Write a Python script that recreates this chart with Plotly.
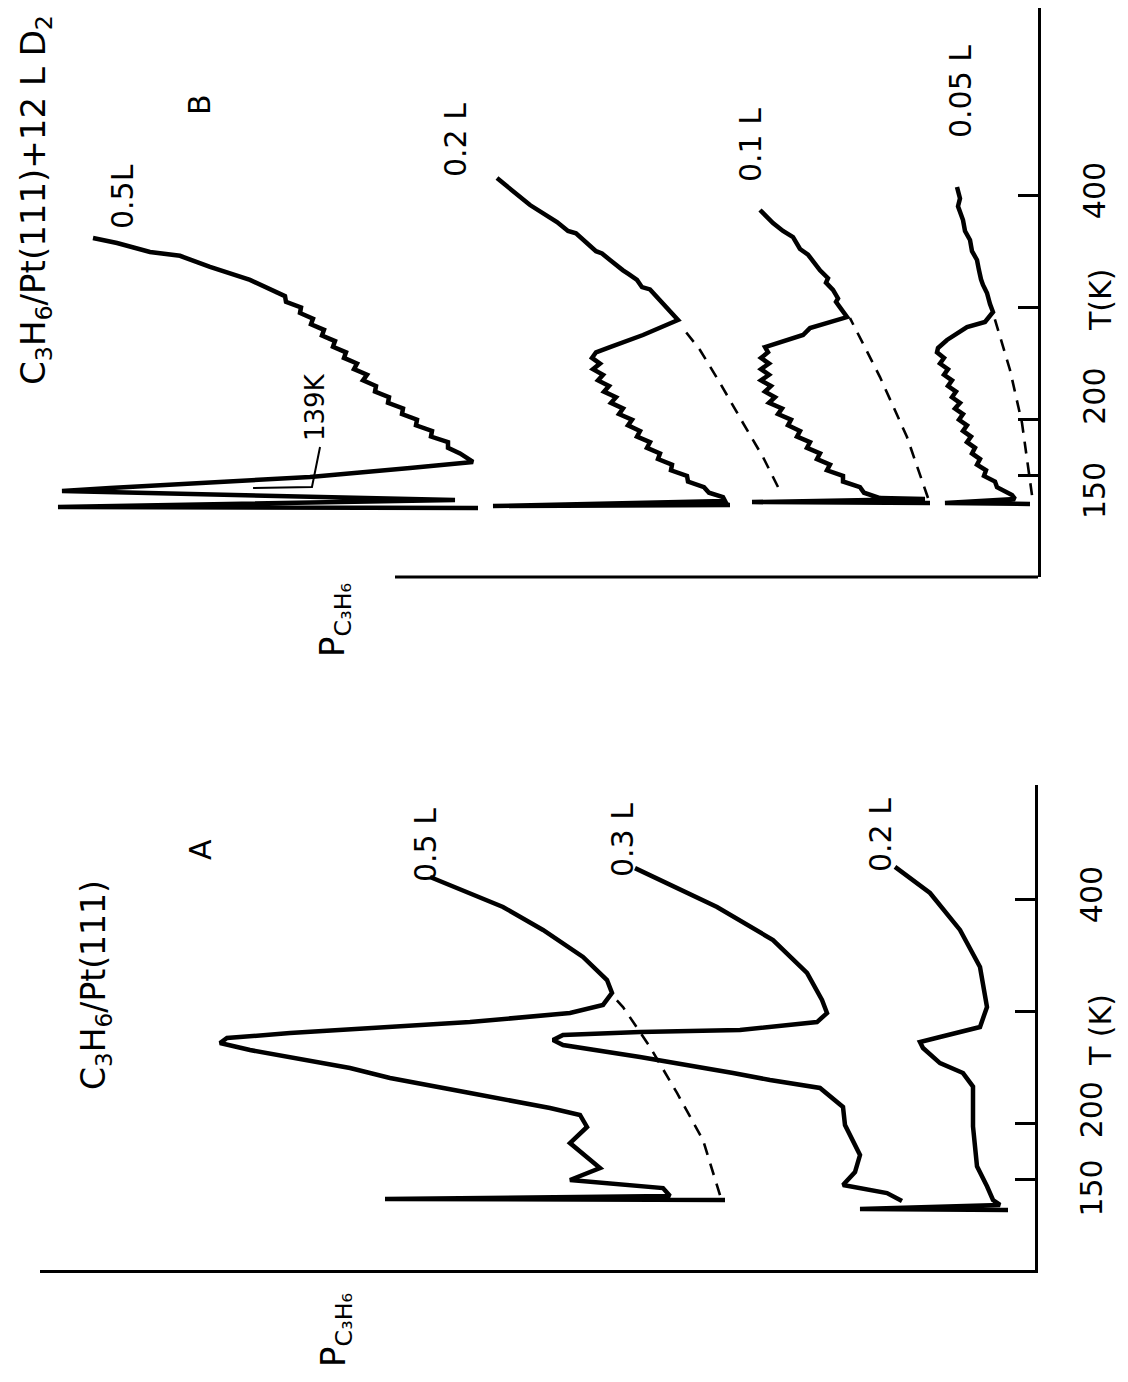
import plotly.graph_objects as go

FONT = "DejaVu Sans"
OFF = 8                      # the page body adds an 8 px margin
W, H = 1128 - OFF, 1382 - OFF

# ---- panel A : C3H6/Pt(111) ; T in K, P in arb. units (measured leftward from the T axis)
a05_T = [132.1, 133.0, 135.6, 142.7, 149.9, 160.6, 182.8, 197.1, 207.8, 214.0, 227.4, 240.7,
         249.6, 258.5, 265.6, 271.8, 276.3, 280.7, 286.1, 290.5, 298.5, 305.7, 316.4, 327.9,
         348.4, 372.5, 392.9, 408.1, 419.6]
a05_P = [3.10, 6.50, 3.65, 3.72, 4.65, 4.35, 4.65, 4.48, 4.55, 4.85, 5.65, 6.45,
         6.85, 7.38, 7.85, 8.15, 8.08, 7.45, 6.45, 5.65, 4.65, 4.32, 4.23, 4.28,
         4.52, 4.92, 5.32, 5.72, 6.05]
a05_base_T = [136.5, 185.5, 227.4, 268.3, 303.9, 314.6]
a05_base_P = [3.15, 3.32, 3.58, 3.85, 4.12, 4.23]

a03_T = [131.2, 138.3, 145.4, 157.0, 172.1, 185.5, 198.8, 214.9, 231.8, 238.9, 245.1, 259.4,
         270.1, 274.5, 279.0, 281.6, 283.4, 290.5, 298.5, 310.1, 334.2, 363.5, 392.9, 427.5]
a03_P = [1.33, 1.48, 1.92, 1.80, 1.75, 1.82, 1.90, 1.92, 2.15, 2.65, 3.02, 3.95,
         4.72, 4.82, 4.72, 3.95, 2.95, 2.18, 2.08, 2.13, 2.28, 2.62, 3.18, 4.00]

a02_T = [123.2, 124.1, 127.7, 132.1, 144.3, 162.1, 197.6, 233.1, 245.1, 254.0, 267.4, 272.7,
         277.2, 286.1, 303.9, 339.5, 372.5, 405.4, 428.6]
a02_P = [0.27, 1.75, 0.35, 0.42, 0.48, 0.58, 0.62, 0.62, 0.72, 0.95, 1.12, 1.15,
         0.95, 0.55, 0.48, 0.55, 0.75, 1.05, 1.40]

# ---- panel B : C3H6/Pt(111) + 12 L D2
b05_T = [121.4, 122.3, 128.5, 136.5, 139.2, 143.7, 149.0, 157.0, 162.4,
         170, 175, 180, 185, 190, 195, 200, 205, 210, 215, 220, 225, 230, 235, 240,
         245, 250, 255, 260, 265, 270, 275, 280, 285, 290, 295, 300, 305, 310,
         324.4, 336.1, 345.9, 349.3, 357.3, 361.8]
b05_P = [5.60, 9.80, 5.83, 9.76, 9.28, 8.28, 7.28, 6.28, 5.65,
         5.78, 5.90, 5.90, 6.07, 6.06, 6.22, 6.21, 6.36, 6.35, 6.50, 6.49, 6.63, 6.62, 6.75, 6.71,
         6.84, 6.81, 6.94, 6.92, 7.05, 7.03, 7.16, 7.14, 7.27, 7.25, 7.38, 7.37, 7.52, 7.53,
         7.88, 8.28, 8.58, 8.88, 9.21, 9.45]

b02_T = [124.1, 123.2, 127.7, 131.2,
         135, 140, 145, 150, 155, 160, 165, 170, 175, 180, 185, 190, 195, 200, 205, 210,
         215, 220, 225, 230, 235, 240, 245, 250, 255, 260,
         264.7, 275.4, 288.8, 303.9, 311, 316, 318, 324.4, 330, 333, 342.2, 348, 350,
         360.0, 366, 368, 376.0, 391.1, 415.1]
b02_P = [3.08, 5.45, 3.13, 3.15,
         3.29, 3.34, 3.50, 3.51, 3.67, 3.66, 3.80, 3.78, 3.91, 3.88, 4.01, 3.98, 4.10, 4.06, 4.19, 4.15,
         4.27, 4.22, 4.34, 4.29, 4.40, 4.35, 4.45, 4.38, 4.46, 4.42,
         4.28, 3.95, 3.60, 3.75, 3.82, 3.88, 3.96, 4.01, 4.10, 4.15, 4.28, 4.36, 4.42,
         4.55, 4.62, 4.70, 4.81, 5.08, 5.41]
b02_base_T = [140.1, 166.8, 197.1, 232.7, 262.1, 282.5]
b02_base_P = [2.60, 2.75, 2.95, 3.18, 3.38, 3.56]

b01_T = [125.9, 126.7, 129.5, 130.3,
         135, 140, 145, 150, 155, 160, 165, 170, 175, 180, 185, 190, 195, 200, 205, 210,
         215, 220, 225, 230, 235, 240, 245, 250, 255, 260,
         264.7, 269.2, 275.4, 281.6, 291.4, 300, 305, 308, 315.5, 322, 326, 333, 342.2,
         347, 352, 362.6, 368, 375.1, 386.7]
b01_P = [1.08, 2.86, 1.13, 1.58,
         1.74, 1.78, 1.95, 1.95, 2.11, 2.08, 2.21, 2.18, 2.31, 2.28, 2.41, 2.38, 2.50, 2.47, 2.60, 2.56,
         2.69, 2.63, 2.73, 2.67, 2.77, 2.69, 2.77, 2.69, 2.77, 2.70,
         2.73, 2.58, 2.35, 2.28, 1.91, 1.98, 2.02, 2.00, 2.05, 2.12, 2.10, 2.18, 2.25,
         2.30, 2.38, 2.45, 2.55, 2.65, 2.78]
b01_base_T = [130.3, 184.6, 238.0, 263.8, 290.5]
b01_base_P = [1.10, 1.31, 1.58, 1.73, 1.88]

b005_T = [125.0, 125.9, 129.5, 133.0,
          140, 145, 150, 155, 160, 165, 170, 175, 180, 185, 190, 195, 200, 205, 210,
          215, 220, 225, 230, 235, 240, 245, 250, 255, 260,
          263.8, 271.0, 282.5, 287.0, 295.9, 303, 312.8, 320, 325, 333, 342.2, 350, 360,
          368, 377.8, 390, 397, 407.2]
b005_P = [0.08, 0.93, 0.23, 0.26,
          0.41, 0.43, 0.54, 0.52, 0.61, 0.58, 0.66, 0.63, 0.71, 0.67, 0.75, 0.71, 0.79, 0.75, 0.83,
          0.78, 0.86, 0.82, 0.90, 0.86, 0.94, 0.90, 0.98, 0.94, 1.01,
          1.00, 0.91, 0.71, 0.53, 0.45, 0.48, 0.51, 0.55, 0.57, 0.59, 0.61, 0.66, 0.68,
          0.73, 0.75, 0.80, 0.78, 0.81]
b005_base_T = [132.9, 157.9, 197.1, 244.3, 295.0]
b005_base_P = [0.06, 0.10, 0.16, 0.28, 0.45]

t_ticks = [150, 200, 300, 400]
# figure spaces nudge the crowded 150 / 200 labels apart, as in the original
t_labels_A = ["150\u2007\u2009", "\u2007200", "", "400"]
t_labels_B = ["150\u2007\u2007", "\u2007\u2007200", "", "400"]


def fx(px):
    return (px - OFF) / W


def fy(py):
    return 1 - (py - OFF) / H


fig = go.Figure()


def curve(P, T, panel, dashed=False):
    xa, ya = ("x", "y") if panel == "A" else ("x2", "y2")
    if dashed:
        line = dict(color="black", width=2.6, dash="12px,9px")
    else:
        line = dict(color="black", width=4.5)
    fig.add_trace(go.Scatter(x=P, y=T, mode="lines", line=line, xaxis=xa, yaxis=ya,
                             showlegend=False, hoverinfo="skip"))


curve(a05_P, a05_T, "A")
curve(a05_base_P, a05_base_T, "A", dashed=True)
curve(a03_P, a03_T, "A")
curve(a02_P, a02_T, "A")

curve(b05_P, b05_T, "B")
curve(b02_P, b02_T, "B")
curve(b02_base_P, b02_base_T, "B", dashed=True)
curve(b01_P, b01_T, "B")
curve(b01_base_P, b01_base_T, "B", dashed=True)
curve(b005_P, b005_T, "B")
curve(b005_base_P, b005_base_T, "B", dashed=True)

xax = dict(showline=True, linecolor="black", linewidth=3, ticks="", showticklabels=False,
           showgrid=False, zeroline=False, fixedrange=True)
yax = dict(side="right", showline=True, linecolor="black", linewidth=3, ticks="inside",
           ticklen=20, tickwidth=3, tickcolor="black", tickvals=t_ticks,
           tickangle=-90, tickfont=dict(family=FONT, size=30, color="black"),
           ticklabelstandoff=28, showgrid=False, zeroline=False, fixedrange=True)

fig.update_layout(
    width=W, height=H,
    margin=dict(l=0, r=0, t=0, b=0),
    paper_bgcolor="white", plot_bgcolor="white",
    xaxis=dict(xax, domain=[fx(40), fx(1035)], range=[9.95, 0], anchor="y"),
    yaxis=dict(yax, ticktext=t_labels_A, domain=[fy(1270), fy(785)], range=[69.8, 501.5],
               anchor="x"),
    xaxis2=dict(xax, showline=False, domain=[fx(40), fx(1038)], range=[9.98, 0], anchor="y2"),
    yaxis2=dict(yax, ticktext=t_labels_B, domain=[fy(577), 1.0], range=[60.0, 566.5],
                anchor="x2"),
)

# bottom line of panel B only runs from x~395 px to the T axis
fig.add_shape(type="line", xref="paper", yref="paper", x0=fx(395), x1=fx(1038),
              y0=fy(577), y1=fy(577), line=dict(color="black", width=3))

# leader line of the 139 K label
fig.add_shape(type="path", xref="paper", yref="paper",
              path="M %.4f %.4f L %.4f %.4f L %.4f %.4f" % (fx(320), fy(447), fx(312), fy(487),
                                                           fx(253), fy(488)),
              line=dict(color="black", width=2))


def label(text, px, py, size=30):
    fig.add_annotation(text=text, x=fx(px), y=fy(py), xref="paper", yref="paper",
                       textangle=-90, showarrow=False, xanchor="center", yanchor="middle",
                       font=dict(family=FONT, size=size, color="black"))


# panel A texts
label("C<sub>3</sub>H<sub>6</sub>/Pt(111)", 95, 985, 33)
label("A", 200, 850)
label("0.5 L", 425, 845)
label("0.3 L", 622, 840)
label("0.2 L", 880, 835)
label("T (K)", 1100, 1030)
label("P<sub>C₃H₆</sub>", 335, 1330, 34)

# panel B texts
label("C<sub>3</sub>H<sub>6</sub>/Pt(111)+12 L D<sub>2</sub>", 35, 200, 34)
label("B", 200, 105)
label("0.5L", 123, 197)
label("0.2 L", 455, 140)
label("0.1 L", 750, 145)
label("0.05 L", 960, 92)
label("139K", 315, 407, 26)
label("T(K)", 1100, 300)
label("P<sub>C₃H₆</sub>", 335, 620, 34)

fig.write_html("out.html")
